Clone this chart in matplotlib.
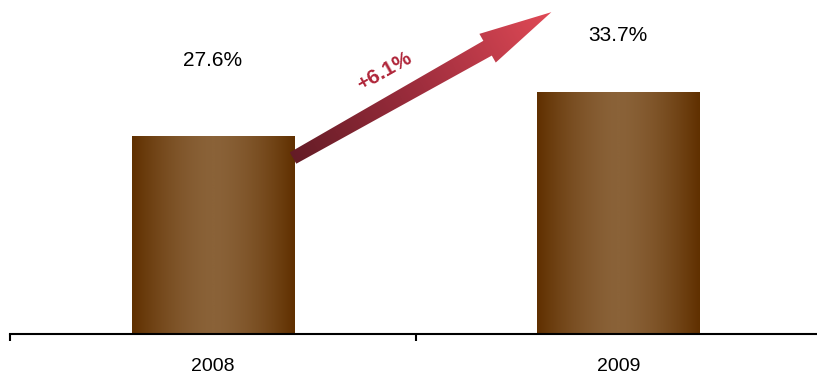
import numpy as np
import matplotlib
matplotlib.use("Agg")
import matplotlib.pyplot as plt
from matplotlib.colors import LinearSegmentedColormap
from matplotlib.patches import Polygon

plt.rcParams['font.family'] = ['Liberation Sans', 'DejaVu Sans']

# data
years = ['2008', '2009']
shares = [27.6, 33.7]
change_label = '+6.1%'

# label offsets above bars (data units)
label_offsets = [10.6, 8.0]
bar_width = 0.40

W, H = 817, 376
fig = plt.figure(figsize=(W / 100, H / 100), dpi=100)
ax = fig.add_axes([10 / W, 42 / H, 807 / W, 334 / H])
ax.set_xlim(-0.5, 1.49)
ax.set_ylim(0, 46.7)

# bars with horizontal gradient
bar_cmap = LinearSegmentedColormap.from_list('brown', ['#603000', '#8a6238'])
u = np.linspace(0, 1, 200)
prof = 1 - np.abs(2 * u - 1) ** 1.6
grad = prof[np.newaxis, :]
xs = np.arange(len(years))
for x, v in zip(xs, shares):
    ax.imshow(grad, extent=[x - bar_width / 2, x + bar_width / 2, 0, v],
              aspect='auto', cmap=bar_cmap, vmin=0, vmax=1, zorder=2,
              interpolation='bilinear')
ax.set_xlim(-0.5, 1.49)
ax.set_ylim(0, 46.7)

# value labels
for x, v, off in zip(xs, shares, label_offsets):
    ax.text(x, v + off, f'{v}%', ha='center', va='center', fontsize=15,
            color='#000000')

# axis styling
for s in ['top', 'right', 'left']:
    ax.spines[s].set_visible(False)
ax.spines['bottom'].set_linewidth(1.5)
ax.set_yticks([])
ax.set_xticks(xs)
ax.set_xticklabels(years, fontsize=14)
ax.tick_params(axis='x', which='major', length=0, pad=17)
ax.set_xticks([-0.5, 0.5, 1.5], minor=True)
ax.tick_params(axis='x', which='minor', length=5, width=1.5, direction='out')

# growth arrow (built in pixel space, from the bar positions)
tail_d = (xs[0] + bar_width / 2 - 0.002, shares[0] - 3.0)
tip_d = (xs[1] - 0.165, shares[1] + 11.3)
tail = ax.transData.transform(tail_d)
tip = ax.transData.transform(tip_d)
vec = tip - tail
L = np.hypot(*vec)
d = vec / L
n = np.array([-d[1], d[0]])
head_len = 73
base = tail + d * (L - head_len)
pts = [tail - n * 6.5, base - n * 8.5, base - n * 16.5, tip,
       base + n * 16.5, base + n * 8.5, tail + n * 6.5]
pts = np.array(pts)
inv = ax.transData.inverted()
pts_d = inv.transform(pts)
poly = Polygon(pts_d, closed=True, facecolor='none', edgecolor='none')
ax.add_patch(poly)

x0, y0 = pts.min(axis=0) - 2
x1, y1 = pts.max(axis=0) + 2
gx, gy = np.meshgrid(np.linspace(x0, x1, 300), np.linspace(y0, y1, 200))
t = ((gx - tail[0]) * d[0] + (gy - tail[1]) * d[1]) / L
arrow_cmap = LinearSegmentedColormap.from_list(
    'red', ['#641c26', '#a02e3e', '#e04a56'])
(dx0, dy0), (dx1, dy1) = inv.transform([[x0, y0], [x1, y1]])
im = ax.imshow(np.clip(t, 0, 1), extent=[dx0, dx1, dy0, dy1], origin='lower',
               aspect='auto', cmap=arrow_cmap, vmin=0, vmax=1, zorder=3,
               interpolation='bilinear')
im.set_clip_path(poly)
ax.set_xlim(-0.5, 1.49)
ax.set_ylim(0, 46.7)

# change label along the arrow
mid = (tail + tip) / 2
txt_pos = mid - d * 26 + n * 30
angle = np.degrees(np.arctan2(d[1], d[0]))
ax.text(*inv.transform(txt_pos), change_label, rotation=angle,
        rotation_mode='anchor', ha='center', va='center', fontsize=15,
        fontweight='bold', color='#b0263a')

fig.savefig('out.png', dpi=100)
